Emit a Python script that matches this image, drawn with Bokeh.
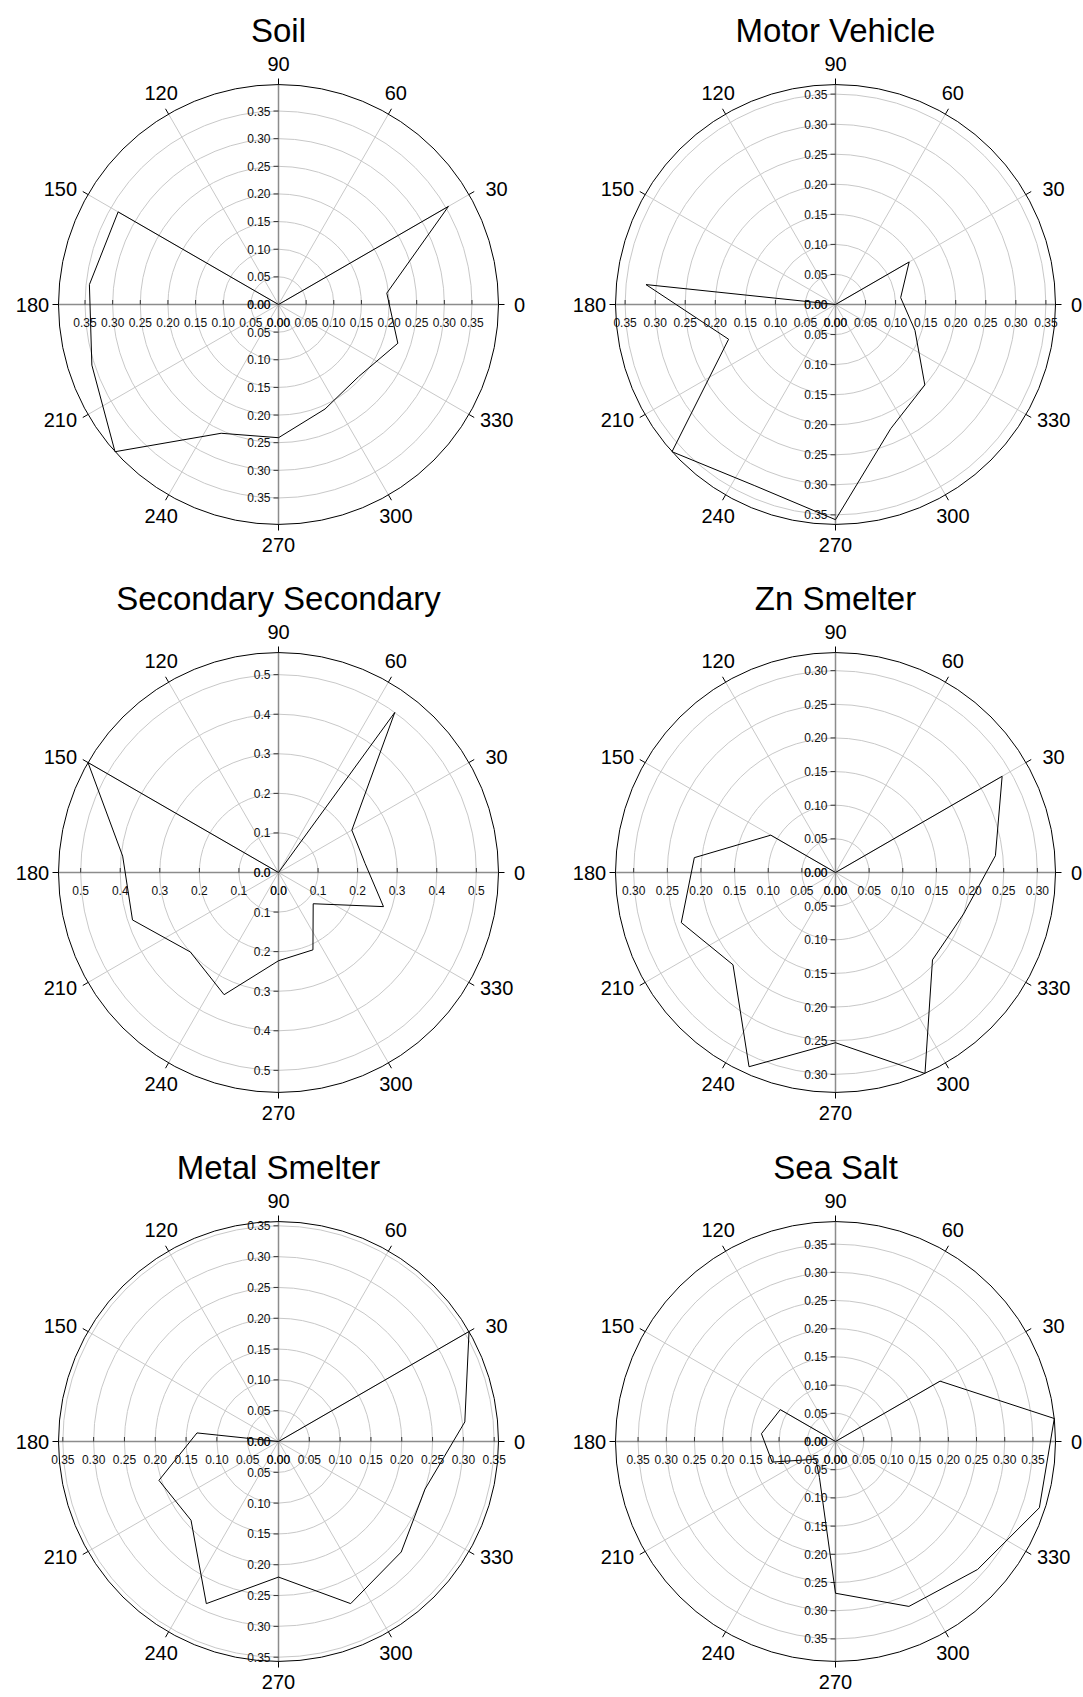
import numpy as np
from bokeh.plotting import figure
from bokeh.models import Range1d
from bokeh.layouts import column, row
from bokeh.embed import file_html
from bokeh.resources import INLINE
from bokeh.core.properties import value

# ---------------- data ----------------
directions = [6, 30, 54, 78, 102, 126, 150, 174, 198, 222, 246, 270, 294, 318, 342]

soil           = [0.197, 0.355, 0.0, 0.0, 0.0, 0.0, 0.335, 0.344, 0.355, 0.398, 0.255, 0.241, 0.207, 0.195, 0.227]
motor_vehicle  = [0.109, 0.1415, 0.0, 0.0, 0.0, 0.0, 0.0, 0.317, 0.187, 0.366, 0.330, 0.358, 0.226, 0.200, 0.139]
secondary      = [0.220, 0.214, 0.500, 0.0, 0.0, 0.0, 0.556, 0.396, 0.388, 0.300, 0.338, 0.223, 0.214, 0.118, 0.279]
zn_smelter     = [0.239, 0.286, 0.0, 0.0, 0.0, 0.0, 0.111, 0.211, 0.241, 0.205, 0.316, 0.253, 0.327, 0.194, 0.200]
metal_smelter  = [0.304, 0.357, 0.0, 0.0, 0.0, 0.0, 0.0, 0.133, 0.204, 0.191, 0.288, 0.220, 0.288, 0.268, 0.250]
sea_salt       = [0.390, 0.214, 0.0, 0.0, 0.0, 0.0, 0.113, 0.132, 0.118, 0.047, 0.070, 0.269, 0.320, 0.339, 0.380]

titles = ["Soil", "Motor Vehicle", "Secondary Secondary", "Zn Smelter", "Metal Smelter", "Sea Salt"]

angle_ticks = [0, 30, 60, 90, 120, 150, 180, 210, 240, 270, 300, 330]
angle_labels = ["0", "30", "60", "90", "120", "150", "180", "210", "240", "270", "300", "330"]

ticks_005_35 = [0.00, 0.05, 0.10, 0.15, 0.20, 0.25, 0.30, 0.35]
ticks_01_5 = [0.0, 0.1, 0.2, 0.3, 0.4, 0.5]
ticks_005_30 = [0.00, 0.05, 0.10, 0.15, 0.20, 0.25, 0.30]

FONT = "Liberation Sans"
R_PX = 220.0


def label_position(a):
    """Pixel offset of an angle label's centre from the pole."""
    t = np.radians(a)
    c, s_ = np.cos(t), np.sin(t)
    if abs(c) > 0.99:              # 0 / 180
        d = 241.0 if c > 0 else 246.0
        tt = t
    elif abs(s_) > 0.99:           # 90 / 270
        d = 240.5
        tt = t
    elif abs(c) > 0.8:             # 30-type, pulled toward horizontal
        d = 247.0
        tt = np.arctan2(np.sign(s_) * np.tan(np.radians(28.0)) * abs(c), c) if False else \
            np.radians(a - 2.0 * np.sign(s_) * np.sign(c))
    else:                          # 60-type, pulled toward vertical
        d = 242.0
        tt = np.radians(a + 1.0 * np.sign(s_) * np.sign(c))
    return d * np.cos(tt), d * np.sin(tt)


def polar_panel(title, values, ticks, decimals, width, height, cx, cy):
    rmax = max(values)
    s = R_PX / rmax  # pixels per data unit
    p = figure(width=width, height=height,
               x_range=Range1d(-cx / s, (width - cx) / s),
               y_range=Range1d(-(height - cy) / s, cy / s),
               output_backend="svg", toolbar_location=None,
               x_axis_location=None, y_axis_location=None, min_border=0)
    p.grid.visible = False
    p.outline_line_color = None

    # rings
    rings = [t for t in ticks if t > 0]
    p.circle(x=[0] * len(rings), y=[0] * len(rings), radius=rings,
             fill_color=None, line_color="#c8c8c8", line_width=1)

    # spokes
    sp = [a for a in angle_ticks if a % 90 != 0]
    th = np.radians(sp)
    p.segment(x0=[0] * len(sp), y0=[0] * len(sp),
              x1=list(rmax * np.cos(th)), y1=list(rmax * np.sin(th)),
              line_color="#c8c8c8", line_width=1)

    # main axes
    p.segment(x0=[-rmax, 0], y0=[0, -rmax], x1=[rmax, 0], y1=[0, rmax],
              line_color="#8c8c8c", line_width=1.5)

    # outer circle
    p.circle(x=[0], y=[0], radius=[rmax], fill_color=None,
             line_color="black", line_width=1)

    # outer angular ticks
    tha = np.radians(angle_ticks)
    r1 = rmax + 6.0 / s
    p.segment(x0=list(rmax * np.cos(tha)), y0=list(rmax * np.sin(tha)),
              x1=list(r1 * np.cos(tha)), y1=list(r1 * np.sin(tha)),
              line_color="black", line_width=1)

    # radial tick marks on axes
    tp = [t for t in ticks if t > 0]
    hx = [t for t in tp] + [-t for t in tp]
    p.segment(x0=hx, y0=[0] * len(hx), x1=hx, y1=[4.5 / s] * len(hx),
              line_color="#333333", line_width=1)
    p.segment(x0=[0] * len(hx), y0=hx, x1=[-5.0 / s] * len(hx), y1=hx,
              line_color="#333333", line_width=1)

    # data polygon
    th_d = np.radians(directions + directions[:1])
    vv = np.array(values + values[:1])
    p.line(x=list(vv * np.cos(th_d)), y=list(vv * np.sin(th_d)),
           line_color="black", line_width=1)

    # radial tick labels
    fmt = "{:.%df}" % decimals
    lx = [-t for t in ticks] + ticks
    p.text(x=lx, y=[0] * len(lx), text=[fmt.format(abs(t)) for t in lx],
           text_font=value(FONT), text_font_size="12px", text_color="#111111",
           text_align="center", text_baseline="middle", y_offset=18)
    ly = ticks + [-t for t in ticks]
    p.text(x=[0] * len(ly), y=ly, text=[fmt.format(abs(t)) for t in ly],
           text_font=value(FONT), text_font_size="12px", text_color="#111111",
           text_align="right", text_baseline="middle", x_offset=-8)

    # angle labels
    ax, ay = [], []
    for a in angle_ticks:
        px, py = label_position(a)
        ax.append(px / s)
        ay.append(py / s)
    p.text(x=ax, y=ay, text=angle_labels, text_font=value(FONT),
           text_font_size="20px", text_color="black",
           text_align="center", text_baseline="middle")

    # title
    p.text(x=[0], y=[274.0 / s], text=[title], text_font=value(FONT),
           text_font_size="33px", text_color="black",
           text_align="center", text_baseline="middle")
    return p


W1, W2 = 549, 534
CX1, CX2 = 278, 286
H1, H2, H3 = 576, 568, 553
CY1, CY2, CY3 = 304, 296, 297

p1 = polar_panel(titles[0], soil, ticks_005_35, 2, W1, H1, CX1, CY1)
p2 = polar_panel(titles[1], motor_vehicle, ticks_005_35, 2, W2, H1, CX2, CY1)
p3 = polar_panel(titles[2], secondary, ticks_01_5, 1, W1, H2, CX1, CY2)
p4 = polar_panel(titles[3], zn_smelter, ticks_005_30, 2, W2, H2, CX2, CY2)
p5 = polar_panel(titles[4], metal_smelter, ticks_005_35, 2, W1, H3, CX1, CY3)
p6 = polar_panel(titles[5], sea_salt, ticks_005_35, 2, W2, H3, CX2, CY3)

layout = column(row(p1, p2), row(p3, p4), row(p5, p6))

open("out.html", "w").write(file_html(layout, INLINE))
